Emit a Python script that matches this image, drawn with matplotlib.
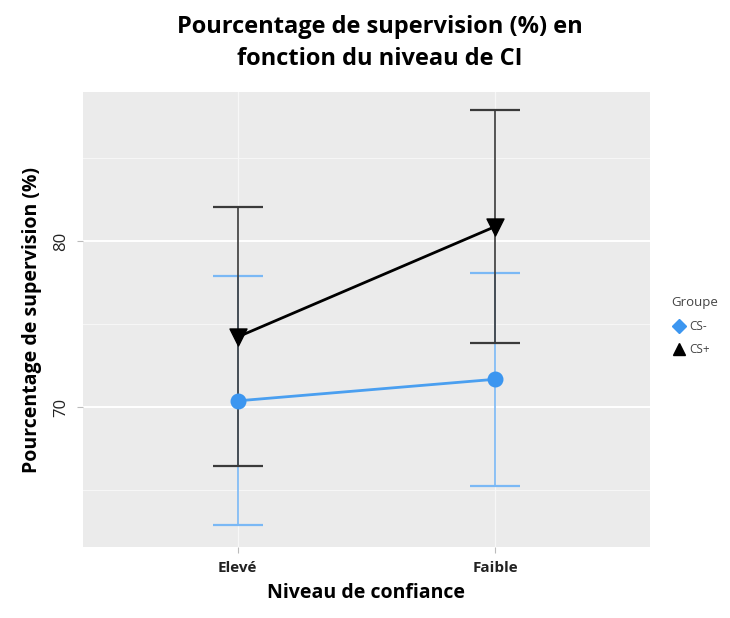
import matplotlib.pyplot as plt
from matplotlib.lines import Line2D
import numpy as np

categories = ["Elevé", "Faible"]
groups = ["CS-", "CS+"]
cs_minus_mean = [70.4, 71.7]
cs_minus_err = [7.5, 6.4]
cs_plus_mean = [74.25, 80.9]
cs_plus_err = [7.8, 7.0]

plt.rcParams['font.family'] = ['Open Sans', 'DejaVu Sans']

fig = plt.figure(figsize=(7.3, 6.18), dpi=100)
ax = fig.add_axes([0.114, 0.115, 0.776, 0.736])

x = np.arange(len(categories))

# error bars first, blue under black
ax.errorbar(x, cs_minus_mean, yerr=cs_minus_err, fmt='none', ecolor='#7ab8f5',
            elinewidth=1.2, capsize=18, capthick=1.6, zorder=2)
ax.errorbar(x, cs_plus_mean, yerr=cs_plus_err, fmt='none', ecolor='#3a3a3a',
            elinewidth=1.2, capsize=18, capthick=1.6, zorder=3)

ax.plot(x, cs_plus_mean, color='black', lw=2, zorder=4)
ax.plot(x, cs_minus_mean, color='#4a9ff0', lw=2, zorder=4)
ax.scatter(x, cs_plus_mean, marker='v', s=150, color='black', zorder=5)
ax.scatter(x, cs_minus_mean, marker='o', s=110, color='#3c96f0', zorder=5)

ax.set_xlim(-0.6, 1.6)
ax.set_ylim(61.6, 89.0)
ax.set_facecolor('#EBEBEB')
for s in ax.spines.values():
    s.set_visible(False)

ax.set_yticks([70, 80])
ax.set_yticks([65, 75, 85], minor=True)
ax.set_xticks(x)
ax.set_xticklabels(categories, fontsize=11, fontweight='bold', color='#222222')
ax.set_yticklabels(["70", "80"], fontsize=12, rotation=90, va='center', color='#222222')
ax.grid(True, which='major', axis='y', color='white', lw=1.4)
ax.grid(True, which='major', axis='x', color='#f7f7f7', lw=0.9)
ax.grid(True, which='minor', axis='y', color='#f7f7f7', lw=0.7)
ax.set_axisbelow(True)
ax.tick_params(which='major', length=4, color='#bbbbbb', pad=6)
ax.tick_params(which='minor', length=0)

ax.set_xlabel("Niveau de confiance", fontsize=14, fontweight='bold', labelpad=6)
ax.set_ylabel("Pourcentage de supervision (%)", fontsize=14, fontweight='bold', labelpad=8)

fig.text(0.52, 0.975, "Pourcentage de supervision (%) en\nfonction du niveau de CI",
         ha='center', va='top', fontsize=17, fontweight='bold', linespacing=1.4)

handles = [Line2D([], [], marker='D', color='#3c96f0', ls='none', markersize=7),
           Line2D([], [], marker='^', color='black', ls='none', markersize=8)]
leg = ax.legend(handles, groups, title="Groupe", loc='center left',
                bbox_to_anchor=(1.02, 0.485), frameon=False, fontsize=8.5,
                title_fontsize=9.5, handletextpad=0.3, labelspacing=0.9,
                handlelength=1.2)
leg._legend_box.align = 'left'
for t in leg.get_texts():
    t.set_color('#444444')
leg.get_title().set_color('#444444')

fig.savefig("out.png", dpi=100)
